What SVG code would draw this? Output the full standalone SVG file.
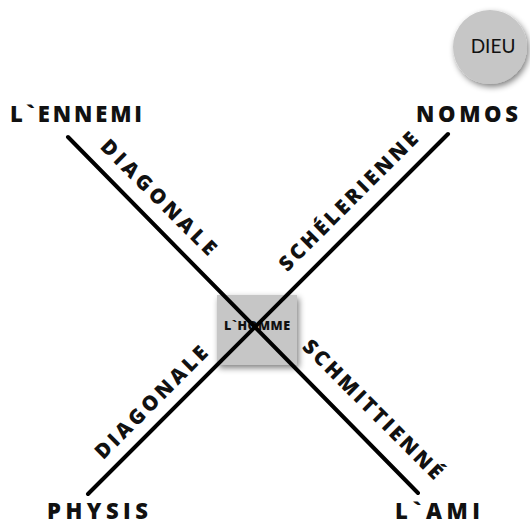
<svg xmlns="http://www.w3.org/2000/svg" width="530" height="524" viewBox="0 0 530 524">
<defs>
<style>
.lbl{font-family:"Open Sans",Lato,"Liberation Sans",sans-serif;font-weight:800;fill:#111;}
.big{font-size:22px;}
.diag{font-size:20.5px;}
.conn{stroke:#000;stroke-width:4;stroke-linecap:round;fill:none;}
</style>
<filter id="sh" x="-30%" y="-30%" width="160%" height="160%">
<feGaussianBlur in="SourceAlpha" stdDeviation="3"/>
<feOffset dx="2" dy="3" result="b"/>
<feComponentTransfer><feFuncA type="linear" slope="0.5"/></feComponentTransfer>
<feMerge><feMergeNode/><feMergeNode in="SourceGraphic"/></feMerge>
</filter>
</defs>
<rect width="530" height="524" fill="#fff"/>
<g id="dieu">
<circle cx="490" cy="47" r="37" fill="#c6c6c6" filter="url(#sh)"/>
<text x="493" y="53" text-anchor="middle" font-family="Lato,'Liberation Sans',sans-serif" font-size="19" fill="#111">DIEU</text>
</g>
<g id="homme">
<rect x="217" y="295" width="80" height="70" fill="#c6c6c6" filter="url(#sh)"/>
<text class="lbl" x="257" y="330" text-anchor="middle" font-size="12.5" textLength="66" lengthAdjust="spacing">L`HOMME</text>
</g>
<g id="connectors">
<line class="conn" x1="68" y1="137" x2="418" y2="493"/>
<line class="conn" x1="448" y1="134" x2="88" y2="494"/>
</g>
<g id="ennemi"><text class="lbl big" x="10" y="122" textLength="132" lengthAdjust="spacing">L`ENNEMI</text></g>
<g id="nomos"><text class="lbl big" x="416" y="122" textLength="102" lengthAdjust="spacing">NOMOS</text></g>
<g id="physis"><text class="lbl big" x="47" y="519" textLength="101" lengthAdjust="spacing">PHYSIS</text></g>
<g id="ami"><text class="lbl big" x="395" y="519" textLength="85" lengthAdjust="spacing">L`AMI</text></g>
<g id="lbl-diag1"><text class="lbl diag" x="0" y="7.5" text-anchor="middle" textLength="154" lengthAdjust="spacing" transform="translate(159,197) rotate(45)">DIAGONALE</text></g>
<g id="lbl-schel"><text class="lbl diag" x="0" y="7.5" text-anchor="middle" textLength="187" lengthAdjust="spacing" transform="translate(348,201) rotate(-45)">SCHÉLERIENNE</text></g>
<g id="lbl-diag2"><text class="lbl diag" x="0" y="7.5" text-anchor="middle" textLength="150" lengthAdjust="spacing" transform="translate(151,402) rotate(-45)">DIAGONALE</text></g>
<g id="lbl-schm"><text class="lbl diag" x="0" y="7.5" text-anchor="middle" textLength="188" lengthAdjust="spacing" transform="translate(373,409) rotate(45)">SCHMITTIENNÉ</text></g>
</svg>
